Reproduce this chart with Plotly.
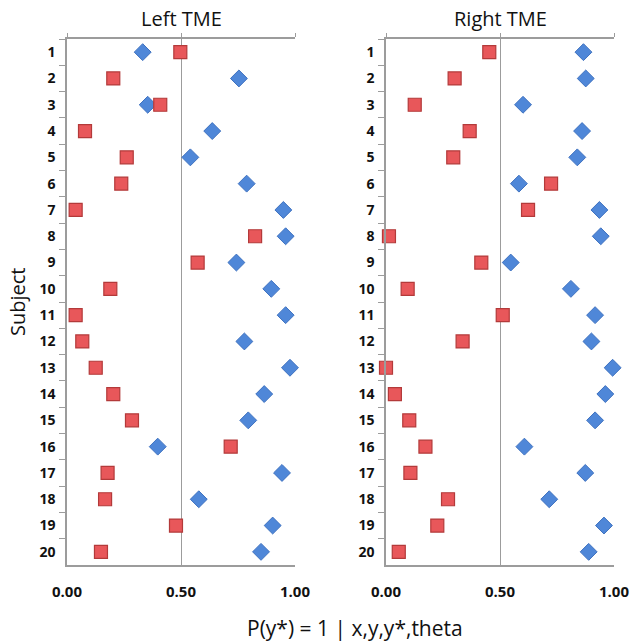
import plotly.graph_objects as go

subjects = [str(i) for i in range(1, 21)]

left_blue = [0.332, 0.754, 0.354, 0.637, 0.541, 0.788, 0.949, 0.959, 0.743, 0.896,
             0.959, 0.778, 0.978, 0.865, 0.795, 0.398, 0.943, 0.578, 0.902, 0.851]
left_red = [0.497, 0.203, 0.409, 0.079, 0.262, 0.238, 0.038, 0.825, 0.573, 0.190,
            0.038, 0.067, 0.126, 0.203, 0.285, 0.718, 0.178, 0.167, 0.478, 0.149]
right_blue = [0.866, 0.876, 0.601, 0.860, 0.839, 0.583, 0.936, 0.942, 0.547, 0.811,
              0.917, 0.901, 0.994, 0.962, 0.917, 0.607, 0.874, 0.716, 0.956, 0.889]
right_red = [0.453, 0.301, 0.126, 0.367, 0.295, 0.724, 0.623, 0.013, 0.418, 0.095,
             0.512, 0.336, 0.000, 0.039, 0.102, 0.173, 0.107, 0.272, 0.225, 0.056]

x_ticks = [0, 0.5, 1.0]
x_tick_labels = ["0.00", "0.50", "1.00"]
panel_titles = ["Left TME", "Right TME"]

W, H = 633, 642
LINE = "#9c9c9c"
BLUE = "#4f87d8"
BLUE_EDGE = "#3f72c0"
RED = "#e8575a"
RED_EDGE = "#b33a3a"
FONT = "Open Sans"

fig = go.Figure()

# blue diamonds on the top (tick) x axes, red squares on the bottom (label) x axes
panels = [("x", "x3", "y", left_blue, left_red), ("x2", "x4", "y2", right_blue, right_red)]
for xa_top, xa_bot, ya, blue, red in panels:
    fig.add_trace(go.Scatter(
        x=blue, y=subjects, xaxis=xa_top, yaxis=ya, mode="markers",
        marker=dict(symbol="diamond", size=13, color=BLUE,
                    line=dict(color=BLUE_EDGE, width=1)),
        cliponaxis=False, showlegend=False))
    fig.add_trace(go.Scatter(
        x=red, y=subjects, xaxis=xa_bot, yaxis=ya, mode="markers",
        marker=dict(symbol="square", size=13, color=RED,
                    line=dict(color=RED_EDGE, width=1.2)),
        cliponaxis=False, showlegend=False))

y_top = 1 - 39 / H
y_bot = 1 - 565 / H
doms = [(67 / W, 295 / W), (386 / W, 614 / W)]

top_x = dict(range=[0, 1], tickvals=x_ticks, side="top",
             showgrid=True, gridcolor=LINE, gridwidth=1.3,
             showline=True, linecolor=LINE, linewidth=1.5,
             ticks="outside", ticklen=4, tickcolor=LINE, tickwidth=1.3,
             showticklabels=False, zeroline=False, automargin=False)
bot_x = dict(range=[0, 1], tickvals=x_ticks, ticktext=x_tick_labels, side="bottom",
             showgrid=False, showline=True, linecolor=LINE, linewidth=1.5,
             ticks="", zeroline=False, ticklabelstandoff=12, automargin=False,
             tickfont=dict(family=FONT, size=15, color="#111111", weight="bold"))
common_y = dict(type="category", categoryarray=subjects, range=[19.5, -0.5],
                domain=[y_bot, y_top], tickson="boundaries", ticks="outside",
                ticklen=6, tickcolor=LINE, tickwidth=1.3,
                showline=True, linecolor=LINE, linewidth=1.5, showgrid=False,
                zeroline=False, ticklabelstandoff=7, automargin=False,
                tickfont=dict(family=FONT, size=14, color="#111111", weight="bold"))

fig.update_layout(
    width=W, height=H,
    margin=dict(l=0, r=0, t=0, b=0),
    paper_bgcolor="white", plot_bgcolor="white",
    xaxis=dict(domain=doms[0], anchor="y", **top_x),
    xaxis2=dict(domain=doms[1], anchor="y2", **top_x),
    xaxis3=dict(overlaying="x", anchor="y", **bot_x),
    xaxis4=dict(overlaying="x2", anchor="y2", **bot_x),
    yaxis=dict(anchor="x", **common_y),
    yaxis2=dict(anchor="x2", **common_y),
)

for (d0, d1), t in zip(doms, panel_titles):
    fig.add_annotation(text=t, x=(d0 + d1) / 2, y=1 - 18 / H, xref="paper", yref="paper",
                       xanchor="center", yanchor="middle", showarrow=False,
                       font=dict(family=FONT, size=20, color="#111111"))

fig.add_annotation(text="P(y*) = 1 | x,y,y*,theta", x=355 / W, y=1 - 628 / H,
                   xref="paper", yref="paper", xanchor="center", yanchor="middle",
                   showarrow=False, font=dict(family=FONT, size=21, color="#111111"))
fig.add_annotation(text="Subject", x=18 / W, y=1 - 302 / H, xref="paper", yref="paper",
                   xanchor="center", yanchor="middle", showarrow=False, textangle=-90,
                   font=dict(family=FONT, size=20, color="#111111"))

fig.write_html("out.html", config={"displayModeBar": False},
               post_script="document.body.style.margin='0';")
